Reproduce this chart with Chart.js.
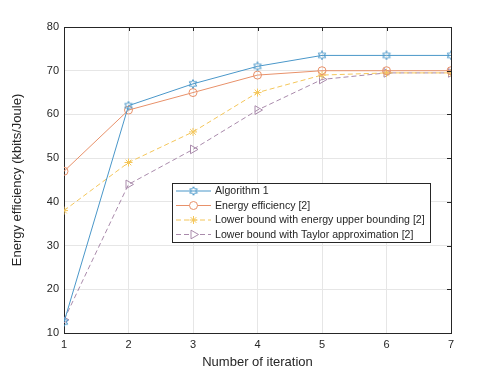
<!DOCTYPE html>
<html>
<head>
<meta charset="utf-8">
<script src="https://cdn.jsdelivr.net/npm/chart.js@4.4.1/dist/chart.umd.min.js"></script>
<style>
html,body{margin:0;padding:0;background:#fff;}
#wrap{width:498px;height:374px;}
</style>
</head>
<body>
<div id="wrap"><canvas id="myChart" width="498" height="374"></canvas></div>
<script>
// data
const iterations = [1,2,3,4,5,6,7];
const algo1 = [12.5,62,67,71,73.5,73.5,73.5];
const energyEff = [47,61,65,69,70,70,70];
const lowerUpper = [38,49,56,65,69,69.5,69.5];
const lowerTaylor = [13,44,52,61,68,69.5,69.5];
const yTicks = [10,20,30,40,50,60,70,80];
const names = ['Algorithm 1','Energy efficiency [2]','Lower bound with energy upper bounding [2]','Lower bound with Taylor approximation [2]'];

const cBlue = '#4a97c9', cOrange = '#e8916a', cYellow = '#f4c65a', cPurple = '#a98aab';
const fontFam = "'Liberation Sans', Arial, sans-serif";

// six pointed star marker
function hexagram(color){
    let c = document.createElement('canvas');
    c.width = 10; c.height = 10;
    let g = c.getContext('2d');
    g.strokeStyle = color; g.lineWidth = 1;
    g.beginPath();
    for (let i = 0; i < 12; i++) {
        let r = (i%2==0) ? 4.3 : 2.4;
        let ang = -Math.PI/2 + i*Math.PI/6;
        let px = 5 + r*Math.cos(ang), py = 5 + r*Math.sin(ang);
        if(i==0) g.moveTo(px,py); else g.lineTo(px,py);
    }
    g.closePath(); g.stroke();
    return c;
}
const hexBlue = hexagram(cBlue);

const sets = [
    {label:names[0], data:algo1, borderColor:cBlue, pointStyle:hexBlue, pointRadius:4, dash:[], rot:0},
    {label:names[1], data:energyEff, borderColor:cOrange, pointStyle:'circle', pointRadius:4, dash:[], rot:0},
    {label:names[2], data:lowerUpper, borderColor:cYellow, pointStyle:'star', pointRadius:4, dash:[5,3], rot:0},
    {label:names[3], data:lowerTaylor, borderColor:cPurple, pointStyle:'triangle', pointRadius:5, dash:[5,3], rot:90},
];

// legend + box drawn by hand
const boxLegend = {
    id:'boxLegend',
    afterDraw(chart){
        const ctx = chart.ctx, a = chart.chartArea;
        ctx.save();
        ctx.strokeStyle = '#262626'; ctx.lineWidth = 1;
        ctx.beginPath();
        ctx.moveTo(a.left, a.top+0.5); ctx.lineTo(a.right+0.5, a.top+0.5); ctx.lineTo(a.right+0.5, a.bottom);
        ctx.stroke();
        // inward ticks on top and right
        ctx.beginPath();
        chart.scales.x.ticks.forEach((t)=>{
            let px = Math.round(chart.scales.x.getPixelForValue(t.value))+0.5;
            ctx.moveTo(px,a.top); ctx.lineTo(px,a.top+4);
        });
        chart.scales.y.ticks.forEach((t)=>{
            let py = Math.round(chart.scales.y.getPixelForValue(t.value))+0.5;
            ctx.moveTo(a.right,py); ctx.lineTo(a.right-4,py);
        });
        ctx.stroke();

        // legend
        let lx = 172.5, ly = 183.5, lw = 258, lh = 59;
        ctx.fillStyle = '#fff';
        ctx.fillRect(lx,ly,lw,lh);
        ctx.strokeStyle = '#262626';
        ctx.strokeRect(lx,ly,lw,lh);
        ctx.font = '10.6px ' + fontFam;
        ctx.textBaseline = 'middle';
        sets.forEach((s,i)=>{
            let yy = 191 + i*14.5;
            ctx.strokeStyle = s.borderColor; ctx.lineWidth = 1;
            ctx.setLineDash(s.dash);
            ctx.beginPath(); ctx.moveTo(176,yy); ctx.lineTo(211,yy); ctx.stroke();
            ctx.setLineDash([]);
            ctx.fillStyle = '#fff';
            Chart.helpers.drawPoint(ctx,{pointStyle:s.pointStyle,radius:s.pointRadius,rotation:s.rot,borderWidth:1},193.5,yy);
            ctx.fillStyle = '#262626';
            ctx.fillText(s.label,215,yy+0.5);
        });
        ctx.restore();
    }
};

var ctx = document.getElementById('myChart').getContext('2d');
var myChart = new Chart(ctx, {
    type:'line',
    data:{
        labels:iterations,
        datasets:sets.map((s)=>({
            label:s.label,
            data:s.data,
            borderColor:s.borderColor,
            backgroundColor:'rgba(255,255,255,0)',
            pointBorderColor:s.borderColor,
            pointBackgroundColor:'rgba(255,255,255,0)',
            pointStyle:s.pointStyle,
            pointRadius:s.pointRadius,
            pointRotation:s.rot,
            pointBorderWidth:1,
            borderWidth:1,
            borderDash:s.dash,
            tension:0,
        }))
    },
    options:{
        responsive:false,
        animation:false,
        layout:{padding:{left:0,right:47,top:27,bottom:0}},
        plugins:{legend:{display:false},tooltip:{enabled:false}},
        scales:{
            x:{
                type:'linear', min:1, max:7,
                afterFit(scale){ scale.height = 41; },
                afterBuildTicks(scale){ scale.ticks = iterations.map(v=>({value:v})); },
                grid:{color:'#e6e6e6', drawTicks:false},
                border:{color:'#262626'},
                ticks:{color:'#262626', font:{size:11,family:fontFam}, padding:5},
                title:{display:true, text:'Number of iteration', color:'#262626', font:{size:13,family:fontFam}, padding:{top:0,bottom:4}}
            },
            y:{
                min:10, max:80,
                afterFit(scale){ scale.width = 64; },
                afterBuildTicks(scale){ scale.ticks = yTicks.map(v=>({value:v})); },
                grid:{color:'#e6e6e6', drawTicks:false},
                border:{color:'#262626'},
                ticks:{color:'#262626', font:{size:11,family:fontFam}, padding:5},
                title:{display:true, text:'Energy efficiency (kbits/Joule)', color:'#262626', font:{size:13,family:fontFam}, padding:{top:10,bottom:0}}
            }
        }
    },
    plugins:[boxLegend]
});
</script>
</body>
</html>
